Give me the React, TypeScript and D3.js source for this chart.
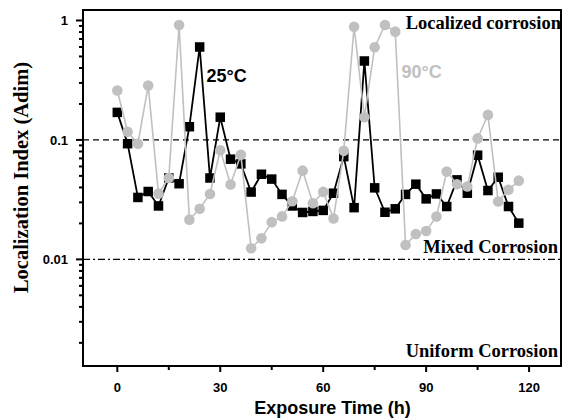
import React from "react";
import * as d3 from "d3";

// Exposure time (h)
const hours = [0, 3, 6, 9, 12, 15, 18, 21, 24, 27, 30, 33, 36, 39, 42, 45, 48, 51, 54, 57, 60, 63, 66, 69, 72, 75, 78, 81, 84, 87, 90, 93, 96, 99, 102, 105, 108, 111, 114, 117];
// Localization index at 25 °C (black squares)
const li25 = [0.17, 0.093, 0.033, 0.037, 0.028, 0.048, 0.043, 0.129, 0.6, 0.048, 0.155, 0.069, 0.063, 0.0366, 0.0516, 0.047, 0.035, 0.028, 0.0247, 0.0252, 0.0257, 0.0358, 0.0725, 0.0271, 0.458, 0.0397, 0.0248, 0.0265, 0.035, 0.0426, 0.0321, 0.0353, 0.0277, 0.0463, 0.0358, 0.0745, 0.0377, 0.0487, 0.0277, 0.0201];
// Localization index at 90 °C (grey circles)
const li90 = [0.259, 0.117, 0.093, 0.285, 0.0355, 0.048, 0.917, 0.0215, 0.0265, 0.0353, 0.082, 0.0424, 0.075, 0.0124, 0.015, 0.0205, 0.0229, 0.0307, 0.0553, 0.0295, 0.0367, 0.022, 0.081, 0.887, 0.155, 0.597, 0.917, 0.806, 0.0132, 0.0163, 0.0173, 0.0228, 0.0543, 0.0426, 0.0407, 0.103, 0.162, 0.0305, 0.0382, 0.0456];

const xTicks = [0, 30, 60, 90, 120];
const xMinorTicks = [15, 45, 75, 105];
const yTicks = [1, 0.1, 0.01];
const yTickLabels = ["1", "0.1", "0.01"];
const zoneLimits = [0.1, 0.01];
const zoneLabels = ["Localized corrosion", "Mixed Corrosion", "Uniform Corrosion"];
const seriesLabels = ["25°C", "90°C"];

const W = 563;
const H = 418;
const LEFT = 83;
const RIGHT = 561;
const TOP = 10;
const BOTTOM = 366;
const GREY = "#c0c0c0";
const SERIF = "'Liberation Serif', 'Times New Roman', serif";
const SANS = "'Liberation Sans', Arial, sans-serif";

export default function App() {
  const x = d3.scaleLinear().domain([-10, 129.3]).range([LEFT, RIGHT]);
  const y = d3.scaleLog().domain([0.00128, 1.224]).range([BOTTOM, TOP]);

  const minorY: number[] = [];
  for (let d = -3; d <= 0; d++) {
    for (let k = 2; k <= 9; k++) {
      const v = k * Math.pow(10, d);
      if (v >= 0.00128 && v <= 1.224) minorY.push(v);
    }
  }

  const line = d3
    .line<number>()
    .x((_, i) => x(hours[i]))
    .y((v) => y(v));

  const sq = 9.5;

  return (
    <div style={{ position: "absolute", left: 0, top: 0 }}>
      <svg width={W} height={H} style={{ display: "block", background: "#fff" }}>
        <rect x={0} y={0} width={W} height={H} fill="#fff" />

        {/* zone separator lines */}
        <line x1={LEFT} x2={RIGHT} y1={y(zoneLimits[0])} y2={y(zoneLimits[0])} stroke="#000" strokeWidth={1.2} strokeDasharray="6,4" />
        <line x1={LEFT} x2={RIGHT} y1={y(zoneLimits[1])} y2={y(zoneLimits[1])} stroke="#000" strokeWidth={1.2} strokeDasharray="7,3,2,3" />

        {/* zone labels */}
        <text x={561} y={29} textAnchor="end" fontFamily={SERIF} fontWeight="bold" fontSize={18.5}>{zoneLabels[0]}</text>
        <text x={558} y={252.5} textAnchor="end" fontFamily={SERIF} fontWeight="bold" fontSize={18.5}>{zoneLabels[1]}</text>
        <text x={558} y={357} textAnchor="end" fontFamily={SERIF} fontWeight="bold" fontSize={18.5}>{zoneLabels[2]}</text>

        {/* 25 °C series */}
        <path d={line(li25) || ""} fill="none" stroke="#000" strokeWidth={1.8} />
        {li25.map((v, i) => (
          <rect key={"b" + i} x={x(hours[i]) - sq / 2} y={y(v) - sq / 2} width={sq} height={sq} fill="#000" />
        ))}

        {/* 90 °C series */}
        <path d={line(li90) || ""} fill="none" stroke={GREY} strokeWidth={1.6} />
        {li90.map((v, i) => (
          <circle key={"g" + i} cx={x(hours[i])} cy={y(v)} r={5.3} fill={GREY} />
        ))}

        {/* series labels */}
        <text x={206.5} y={81.5} fontFamily={SANS} fontWeight="bold" fontSize={18} fill="#000">{seriesLabels[0]}</text>
        <text x={401.5} y={77.5} fontFamily={SANS} fontWeight="bold" fontSize={18} fill={GREY}>{seriesLabels[1]}</text>

        {/* frame */}
        <rect x={LEFT} y={TOP} width={RIGHT - LEFT} height={BOTTOM - TOP} fill="none" stroke="#000" strokeWidth={2} />

        {/* y ticks */}
        {yTicks.map((v, i) => (
          <g key={"yt" + i}>
            <line x1={LEFT - 7} x2={LEFT} y1={y(v)} y2={y(v)} stroke="#000" strokeWidth={2} />
            <text x={68} y={y(v) + 4.6} textAnchor="end" fontFamily={SANS} fontWeight="bold" fontSize={13}>{yTickLabels[i]}</text>
          </g>
        ))}
        {minorY.map((v, i) => (
          <line key={"ym" + i} x1={LEFT - 4} x2={LEFT} y1={y(v)} y2={y(v)} stroke="#000" strokeWidth={2} />
        ))}

        {/* x ticks */}
        {xTicks.map((t) => (
          <g key={"xt" + t}>
            <line x1={x(t)} x2={x(t)} y1={BOTTOM} y2={BOTTOM + 6} stroke="#000" strokeWidth={2} />
            <text x={x(t)} y={392} textAnchor="middle" fontFamily={SANS} fontWeight="bold" fontSize={13}>{t}</text>
          </g>
        ))}
        {xMinorTicks.map((t) => (
          <line key={"xm" + t} x1={x(t)} x2={x(t)} y1={BOTTOM} y2={BOTTOM + 4} stroke="#000" strokeWidth={2} />
        ))}

        {/* axis titles */}
        <text x={332.5} y={414} textAnchor="middle" fontFamily={SANS} fontWeight="bold" fontSize={18}>Exposure Time (h)</text>
        <text transform="translate(28,177.5) rotate(-90)" textAnchor="middle" fontFamily={SERIF} fontWeight="bold" fontSize={20.5}>Localization Index (Adim)</text>
      </svg>
    </div>
  );
}
